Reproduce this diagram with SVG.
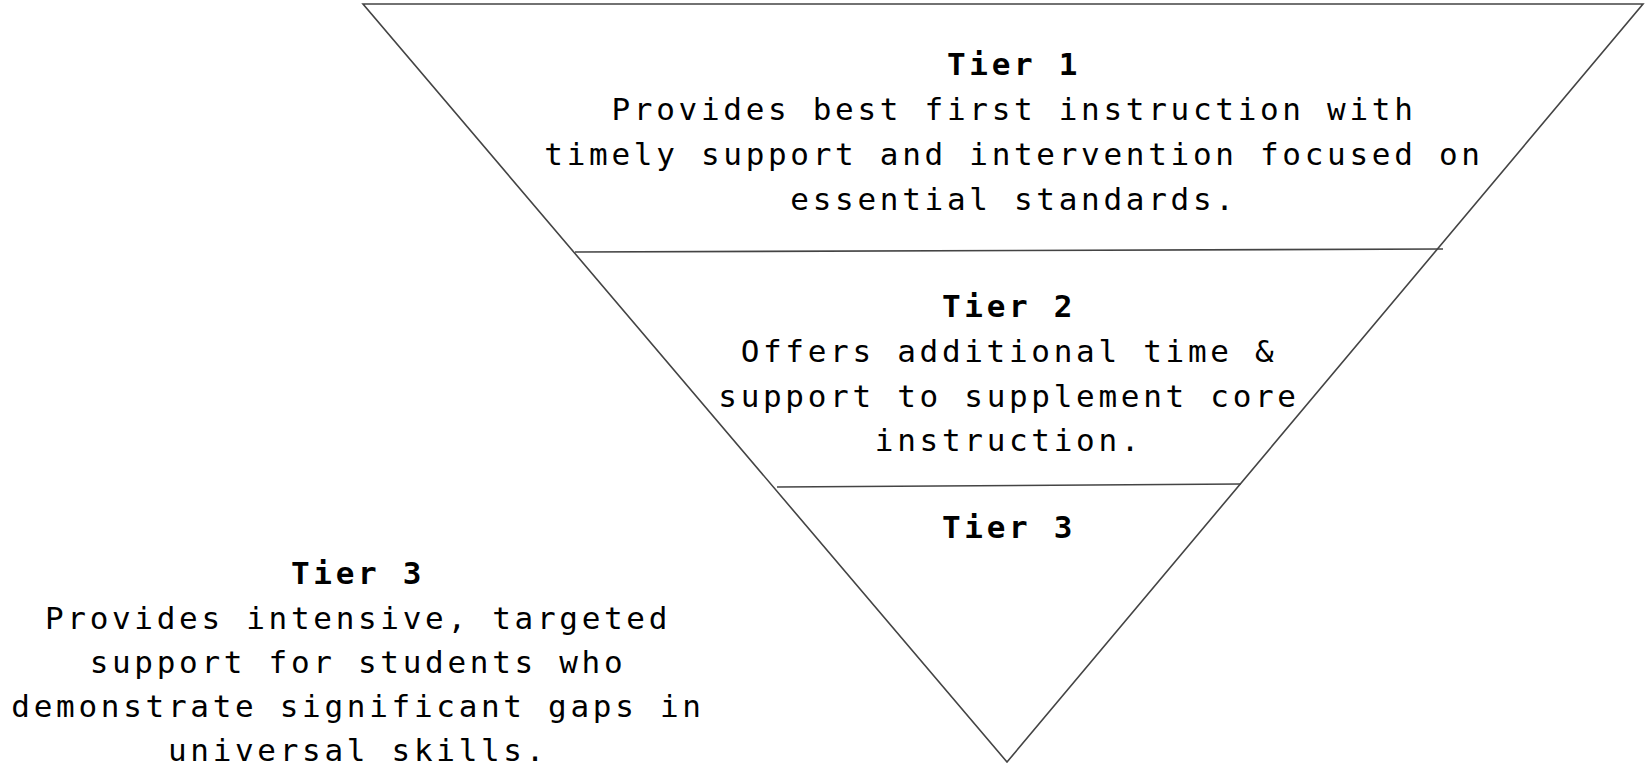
<svg xmlns="http://www.w3.org/2000/svg" width="1645" height="763" viewBox="0 0 1645 763">
  <style>
    .edge { fill: none; stroke: #444; stroke-width: 1.6; }
    text { font-family: "DejaVu Sans Mono", "Liberation Mono", monospace; font-size: 31px; letter-spacing: 3.7px; fill: #000; text-anchor: middle; }
    .head { font-weight: bold; }
  </style>
  <rect width="1645" height="763" fill="#fff"/>

  <!-- inverted pyramid outline and tier dividers -->
  <g id="pyramid">
    <polygon class="edge" points="363,4 1643,4 1007,762"/>
    <line class="edge" x1="575" y1="252" x2="1443" y2="249"/>
    <line class="edge" x1="777" y1="487" x2="1241" y2="484"/>
  </g>

  <g id="tier1">
    <text class="head" x="1014" y="75">Tier 1</text>
    <text x="1014" y="120">Provides best first instruction with</text>
    <text x="1014" y="165">timely support and intervention focused on</text>
    <text x="1014" y="210">essential standards.</text>
  </g>

  <g id="tier2">
    <text class="head" x="1009" y="317">Tier 2</text>
    <text x="1009" y="362">Offers additional time &amp;</text>
    <text x="1009" y="407">support to supplement core</text>
    <text x="1009" y="451">instruction.</text>
  </g>

  <g id="tier3">
    <text class="head" x="1009" y="538">Tier 3</text>
  </g>

  <g id="tier3-note">
    <text class="head" x="358" y="584">Tier 3</text>
    <text x="358" y="629">Provides intensive, targeted</text>
    <text x="358" y="673">support for students who</text>
    <text x="358" y="717">demonstrate significant gaps in</text>
    <text x="358" y="761">universal skills.</text>
  </g>
</svg>
